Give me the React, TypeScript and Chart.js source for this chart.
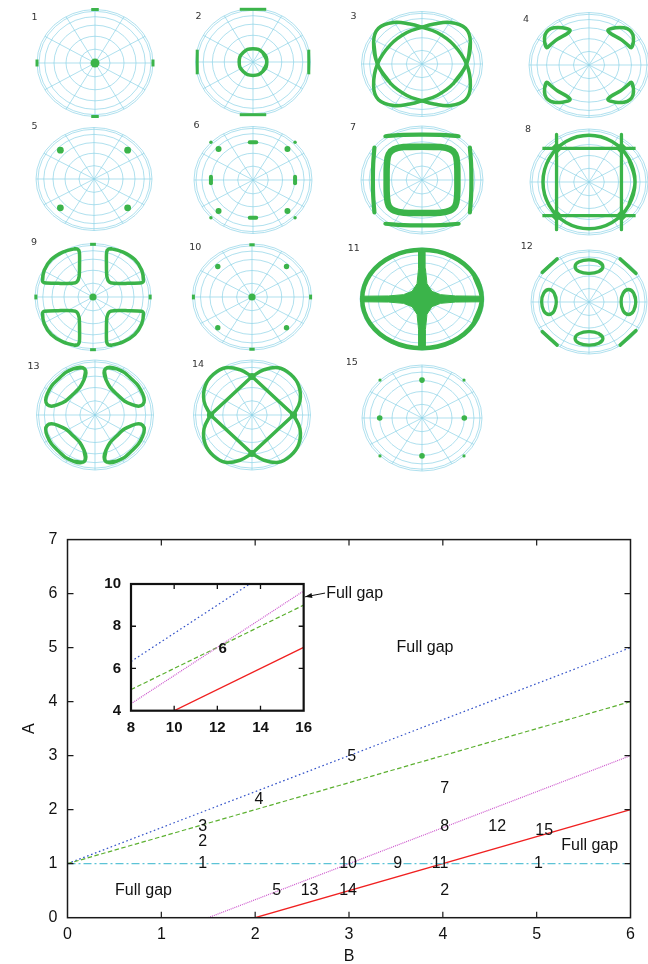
import React, { useEffect, useRef } from "react";
import { Chart, registerables } from "chart.js";
Chart.register(...registerables);

type Pt = [number, number];

const GREEN = "#3bb44a";
const GRID = "#8dd3e6";
const FONT = '"Liberation Sans", Arial, Helvetica, sans-serif';

// ---------------- main phase diagram data ----------------
const mainTicksB = [0, 1, 2, 3, 4, 5, 6];
const mainTicksA = [0, 1, 2, 3, 4, 5, 6, 7];
const blueB = [0, 6];
const blueA = [1, 5];
const greenB = [0, 6];
const greenA = [1, 4];
const magentaB = [1.5, 6];
const magentaA = [0, 3];
const redB = [2, 6];
const redA = [0, 2];
const cyanB = [0, 6];
const cyanA = [1, 1];

const regionLabels = ["1", "2", "3", "4", "5", "7", "8", "12", "15", "10", "9", "11", "1", "5", "13", "14", "2"];
const regionB = [1.44, 1.44, 1.44, 2.04, 3.03, 4.02, 4.02, 4.58, 5.08, 2.99, 3.52, 3.97, 5.02, 2.23, 2.58, 2.99, 4.02];
const regionA = [1.0, 1.4, 1.69, 2.19, 2.99, 2.39, 1.69, 1.69, 1.61, 1.0, 1.0, 1.0, 1.0, 0.5, 0.5, 0.5, 0.5];

const gapLabels = ["Full gap", "Full gap", "Full gap", "Full gap"];
const gapB = [3.81, 0.81, 5.565, 3.06];
const gapA = [5.0, 0.5, 1.34, 6.0];
const arrowTail: Pt = [2.745, 6.01];
const arrowHead: Pt = [2.532, 5.94];

// ---------------- inset data ----------------
const insetTicksB = [8, 10, 12, 14, 16];
const insetTicksA = [4, 6, 8, 10];
const insetB = [8, 16];
const insetBlueA = [6.33, 11.67];
const insetGreenA = [5, 9];
const insetMagentaA = [4.33, 9.67];
const insetRedA = [3, 7];
const insetLabels = ["6"];
const insetLabelB = [12.25];
const insetLabelA = [6.95];

// ---------------- polar panels: shape points (x, y in units of the outer circle) ----------------
const gridRadii = [0.2588, 0.5, 0.7071, 0.866, 0.9659, 1];
const gridSpokes = 12;

const p1Dot: Pt[] = [[0, 0]];
const p1Bars: Pt[][] = [
  [[-0.065, 1], [0.065, 1]],
  [[-0.065, -1], [0.065, -1]],
  [[-1, -0.065], [-1, 0.065]],
  [[1, -0.065], [1, 0.065]],
];

const p2Ring: Pt[] = [[0.24, 0], [0.17, 0.177], [0, 0.25], [-0.17, 0.177], [-0.24, 0], [-0.17, -0.177], [0, -0.25], [0.17, -0.177]];
const p2Bars: Pt[][] = [
  [[-0.23, 0.985], [0.23, 0.985]],
  [[-0.23, -0.985], [0.23, -0.985]],
  [[-0.97, -0.23], [-0.97, 0.23]],
  [[0.97, -0.23], [0.97, 0.23]],
];

const p3LoopA: Pt[] = [[-0.736, 0], [-0.8, 0.42], [-0.72, 0.68], [-0.47, 0.79], [-0.2, 0.76], [0, 0.7], [0.25, 0.6], [0.52, 0.37], [0.736, 0], [0.8, -0.42], [0.72, -0.68], [0.47, -0.79], [0.2, -0.76], [0, -0.7], [-0.25, -0.6], [-0.52, -0.37]];
const p3LoopB: Pt[] = [[0.736, 0], [0.8, 0.42], [0.72, 0.68], [0.47, 0.79], [0.2, 0.76], [0, 0.7], [-0.25, 0.6], [-0.52, 0.37], [-0.736, 0], [-0.8, -0.42], [-0.72, -0.68], [-0.47, -0.79], [-0.2, -0.76], [0, -0.7], [0.25, -0.6], [0.52, -0.37]];

const p4Loops: Pt[][] = [
  [[-0.706, 0.33], [-0.74, 0.44], [-0.733, 0.57], [-0.683, 0.66], [-0.583, 0.71], [-0.444, 0.71], [-0.317, 0.665], [-0.36, 0.6], [-0.528, 0.49], [-0.64, 0.39]],
  [[0.706, 0.33], [0.74, 0.44], [0.733, 0.57], [0.683, 0.66], [0.583, 0.71], [0.444, 0.71], [0.317, 0.665], [0.36, 0.6], [0.528, 0.49], [0.64, 0.39]],
  [[-0.706, -0.33], [-0.74, -0.44], [-0.733, -0.57], [-0.683, -0.66], [-0.583, -0.71], [-0.444, -0.71], [-0.317, -0.665], [-0.36, -0.6], [-0.528, -0.49], [-0.64, -0.39]],
  [[0.706, -0.33], [0.74, -0.44], [0.733, -0.57], [0.683, -0.66], [0.583, -0.71], [0.444, -0.71], [0.317, -0.665], [0.36, -0.6], [0.528, -0.49], [0.64, -0.39]],
];

const p5Dots: Pt[] = [[-0.58, 0.56], [0.58, 0.56], [-0.58, -0.56], [0.58, -0.56]];

const p6Bars: Pt[][] = [
  [[-0.055, 0.706], [0.055, 0.706]],
  [[-0.055, -0.706], [0.055, -0.706]],
  [[-0.713, -0.06], [-0.713, 0.06]],
  [[0.713, -0.06], [0.713, 0.06]],
];
const p6Diag: Pt[] = [[-0.584, 0.58], [0.584, 0.58], [-0.584, -0.58], [0.584, -0.58]];
const p6Corner: Pt[] = [[-0.713, 0.706], [0.713, 0.706], [-0.713, -0.706], [0.713, -0.706]];

const p7Square: Pt[] = [[0, 0.615], [0.3, 0.61], [0.46, 0.57], [0.545, 0.48], [0.575, 0.3], [0.58, 0], [0.575, -0.3], [0.545, -0.48], [0.46, -0.565], [0.3, -0.605], [0, -0.61], [-0.3, -0.605], [-0.46, -0.565], [-0.545, -0.48], [-0.575, -0.3], [-0.58, 0], [-0.575, 0.3], [-0.545, 0.48], [-0.46, 0.57], [-0.3, 0.61]];
const p7Bars: Pt[][] = [
  [[-0.6, 0.81], [-0.3, 0.835], [0, 0.84], [0.3, 0.835], [0.6, 0.81]],
  [[-0.6, -0.81], [-0.3, -0.835], [0, -0.84], [0.3, -0.835], [0.6, -0.81]],
  [[-0.78, 0.6], [-0.8, 0.3], [-0.805, 0], [-0.8, -0.3], [-0.78, -0.6]],
  [[0.785, 0.6], [0.805, 0.3], [0.81, 0], [0.805, -0.3], [0.785, -0.6]],
];

const p8Circle: Pt[] = [[0.78, 0], [0.675, 0.44], [0.39, 0.762], [0, 0.88], [-0.39, 0.762], [-0.675, 0.44], [-0.78, 0], [-0.675, -0.44], [-0.39, -0.762], [0, -0.88], [0.39, -0.762], [0.675, -0.44]];
const p8Lines: Pt[][] = [
  [[-0.55, 0.9], [-0.55, -0.9]],
  [[0.55, 0.9], [0.55, -0.9]],
  [[-0.79, 0.635], [0.79, 0.635]],
  [[-0.79, -0.635], [0.79, -0.635]],
];
const p8Stars: Pt[] = [[-0.55, 0.635], [0.55, 0.635], [-0.55, -0.635], [0.55, -0.635]];

const p9Dot: Pt[] = [[0, 0]];
const p9Bars: Pt[][] = [
  [[-0.05, 0.985], [0.05, 0.985]],
  [[-0.05, -0.985], [0.05, -0.985]],
  [[-0.985, -0.045], [-0.985, 0.045]],
  [[0.985, -0.045], [0.985, 0.045]],
];
const p9Loops: Pt[][] = [
  [[-0.26, 0.89], [-0.235, 0.84], [-0.232, 0.6], [-0.24, 0.38], [-0.28, 0.28], [-0.36, 0.255], [-0.6, 0.255], [-0.84, 0.265], [-0.87, 0.3], [-0.84, 0.5], [-0.72, 0.7], [-0.52, 0.84], [-0.32, 0.9]],
  [[0.26, 0.89], [0.235, 0.84], [0.232, 0.6], [0.24, 0.38], [0.28, 0.28], [0.36, 0.255], [0.6, 0.255], [0.84, 0.265], [0.87, 0.3], [0.84, 0.5], [0.72, 0.7], [0.52, 0.84], [0.32, 0.9]],
  [[-0.26, -0.89], [-0.235, -0.84], [-0.232, -0.6], [-0.24, -0.38], [-0.28, -0.28], [-0.36, -0.255], [-0.6, -0.255], [-0.84, -0.265], [-0.87, -0.3], [-0.84, -0.5], [-0.72, -0.7], [-0.52, -0.84], [-0.32, -0.9]],
  [[0.26, -0.89], [0.235, -0.84], [0.232, -0.6], [0.24, -0.38], [0.28, -0.28], [0.36, -0.255], [0.6, -0.255], [0.84, -0.265], [0.87, -0.3], [0.84, -0.5], [0.72, -0.7], [0.52, -0.84], [0.32, -0.9]],
];

const p10Dot: Pt[] = [[0, 0]];
const p10Diag: Pt[] = [[-0.575, 0.575], [0.58, 0.575], [-0.575, -0.58], [0.58, -0.58]];
const p10Bars: Pt[][] = [
  [[-0.045, 0.985], [0.045, 0.985]],
  [[-0.045, -0.985], [0.045, -0.985]],
  [[-0.985, -0.045], [-0.985, 0.045]],
  [[0.985, -0.045], [0.985, 0.045]],
];

const p11Ring: Pt[] = [[0.965, 0], [0.836, 0.4825], [0.4825, 0.836], [0, 0.965], [-0.4825, 0.836], [-0.836, 0.4825], [-0.965, 0], [-0.836, -0.4825], [-0.4825, -0.836], [0, -0.965], [0.4825, -0.836], [0.836, -0.4825]];
const p11Cross: Pt[] = [
  [0.985, 0.055], [0.54, 0.06], [0.3, 0.085], [0.16, 0.15], [0.08, 0.3], [0.055, 0.6], [0.05, 0.985],
  [-0.05, 0.985], [-0.055, 0.6], [-0.08, 0.3], [-0.16, 0.15], [-0.3, 0.085], [-0.54, 0.06], [-0.985, 0.055],
  [-0.985, -0.055], [-0.54, -0.06], [-0.3, -0.085], [-0.16, -0.15], [-0.08, -0.3], [-0.055, -0.6], [-0.05, -0.985],
  [0.05, -0.985], [0.055, -0.6], [0.08, -0.3], [0.16, -0.15], [0.3, -0.085], [0.54, -0.06], [0.985, -0.055],
  [0.985, 0.055],
];

const p12Ovals: Pt[][] = [
  [[0.24, 0.68], [0.17, 0.772], [0, 0.81], [-0.17, 0.772], [-0.24, 0.68], [-0.17, 0.588], [0, 0.55], [0.17, 0.588]],
  [[0.24, -0.7], [0.17, -0.608], [0, -0.57], [-0.17, -0.608], [-0.24, -0.7], [-0.17, -0.792], [0, -0.83], [0.17, -0.792]],
  [[-0.564, 0], [-0.6, 0.17], [-0.69, 0.24], [-0.78, 0.17], [-0.816, 0], [-0.78, -0.17], [-0.69, -0.24], [-0.6, -0.17]],
  [[0.806, 0], [0.77, 0.17], [0.68, 0.24], [0.59, 0.17], [0.554, 0], [0.59, -0.17], [0.68, -0.24], [0.77, -0.17]],
];
const p12Bars: Pt[][] = [
  [[-0.806, 0.57], [-0.549, 0.83]],
  [[0.537, 0.83], [0.81, 0.55]],
  [[-0.806, -0.57], [-0.549, -0.83]],
  [[0.537, -0.83], [0.81, -0.55]],
];

const p13Ovals: Pt[][] = [
  [[-0.18, 0.84], [-0.186, 0.645], [-0.375, 0.376], [-0.636, 0.188], [-0.818, 0.19], [-0.814, 0.385], [-0.625, 0.655], [-0.364, 0.842]],
  [[0.18, 0.84], [0.186, 0.645], [0.375, 0.376], [0.636, 0.188], [0.818, 0.19], [0.814, 0.385], [0.625, 0.655], [0.364, 0.842]],
  [[-0.18, -0.84], [-0.186, -0.645], [-0.375, -0.376], [-0.636, -0.188], [-0.818, -0.19], [-0.814, -0.385], [-0.625, -0.655], [-0.364, -0.842]],
  [[0.18, -0.84], [0.186, -0.645], [0.375, -0.376], [0.636, -0.188], [0.818, -0.19], [0.814, -0.385], [0.625, -0.655], [0.364, -0.842]],
];

const p14Petals: Pt[][] = [
  [[0, 0.7], [0.2, 0.82], [0.45, 0.86], [0.66, 0.74], [0.8, 0.53], [0.82, 0.25], [0.71, 0]],
  [[0, 0.7], [-0.2, 0.82], [-0.45, 0.86], [-0.66, 0.74], [-0.8, 0.53], [-0.82, 0.25], [-0.71, 0]],
  [[0, -0.7], [0.2, -0.82], [0.45, -0.86], [0.66, -0.74], [0.8, -0.53], [0.82, -0.25], [0.71, 0]],
  [[0, -0.7], [-0.2, -0.82], [-0.45, -0.86], [-0.66, -0.74], [-0.8, -0.53], [-0.82, -0.25], [-0.71, 0]],
];
const p14Diamond: Pt[] = [[0, 0.7], [0.71, 0], [0, -0.7], [-0.71, 0], [0, 0.7]];
const p14Nodes: Pt[] = [[0, 0.7], [0.71, 0], [0, -0.7], [-0.71, 0]];

const p15Dots: Pt[] = [[0, 0.715], [0, -0.715], [-0.705, 0], [0.705, 0]];
const p15Small: Pt[] = [[-0.7, 0.715], [0.7, 0.715], [-0.7, -0.715], [0.7, -0.715]];

// ---------------- layout of the 15 panels (page px): cx, cy, rx, ry, label x, label y ----------------
const panelLayout: number[][] = [
  [94.5, 63, 58, 53.5, 34, 18],
  [252.5, 62, 57.5, 53.5, 198, 17],
  [421.5, 64, 60.5, 52.5, 353, 17],
  [589, 64.5, 60, 52.5, 526, 19],
  [93.5, 179, 58, 51.5, 34, 127],
  [252.5, 179.5, 59, 53.5, 196, 125],
  [422, 179.5, 61, 54, 353, 127],
  [589, 181.5, 59, 53, 528, 129],
  [93, 296.7, 58, 53.5, 34, 242],
  [251.7, 296.7, 59.5, 53, 195, 247],
  [422.3, 299.3, 62, 51, 354, 249],
  [589.3, 301.7, 58, 52, 527, 246],
  [94.5, 415, 58.5, 55, 33, 367],
  [252, 415, 58.5, 55, 198, 365],
  [422.3, 417.7, 60, 53, 352, 362],
];

type Shape = { k: string; pts: Pt[]; w?: number; r?: number; t?: number; cap?: string; style?: string };
const ln = (pts: Pt[], w: number, t = 0.4, cap = "round"): Shape => ({ k: "line", pts, w, t, cap });
const lp = (pts: Pt[], w: number, t = 0.4): Shape => ({ k: "line", pts: [pts[pts.length - 1], ...pts, pts[0], pts[1]], w, t, cap: "round" });
const dt = (pts: Pt[], r: number, style = "circle"): Shape => ({ k: "dots", pts, r, style });
const fl = (pts: Pt[]): Shape => ({ k: "fill", pts });

const panelShapes: Shape[][] = [
  [dt(p1Dot, 4.5), ...p1Bars.map((b) => ln(b, 3, 0, "butt"))],
  [lp(p2Ring, 3.5, 0.5), ...p2Bars.map((b) => ln(b, 3, 0, "butt"))],
  [lp(p3LoopA, 3.5), lp(p3LoopB, 3.5)],
  [...p4Loops.map((l) => lp(l, 3.5, 0.35))],
  [dt(p5Dots, 3.4)],
  [...p6Bars.map((b) => ln(b, 4, 0, "round")), dt(p6Diag, 3), dt(p6Corner, 1.7)],
  [lp(p7Square, 6.5), ...p7Bars.map((b) => ln(b, 4.2))],
  [lp(p8Circle, 3.5), ...p8Lines.map((b) => ln(b, 3.3, 0, "butt")), dt(p8Stars, 6, "rectRot")],
  [dt(p9Dot, 3.6), ...p9Bars.map((b) => ln(b, 3, 0, "butt")), ...p9Loops.map((l) => lp(l, 3.5, 0.3))],
  [dt(p10Dot, 3.6), dt(p10Diag, 2.7), ...p10Bars.map((b) => ln(b, 3, 0, "butt"))],
  [lp(p11Ring, 4.5), fl(p11Cross)],
  [...p12Ovals.map((o) => lp(o, 3.3, 0.5)), ...p12Bars.map((b) => ln(b, 3.5, 0, "round"))],
  [...p13Ovals.map((o) => lp(o, 3.5, 0.5))],
  [...p14Petals.map((p) => ln(p, 3.5)), ln(p14Diamond, 3.5, 0), dt(p14Nodes, 3.6)],
  [dt(p15Dots, 2.8), dt(p15Small, 1.6)],
];

const toXY = (pts: Pt[]) => pts.map(([x, y]) => ({ x, y }));
const xy = (B: number[], A: number[]) => B.map((b, i) => ({ x: b, y: A[i] }));

const polarGridPlugin = {
  id: "polarGrid",
  beforeDatasetsDraw(chart: any) {
    const { ctx, scales } = chart;
    const cx = scales.x.getPixelForValue(0);
    const cy = scales.y.getPixelForValue(0);
    const rx = scales.x.getPixelForValue(1) - cx;
    const ry = cy - scales.y.getPixelForValue(1);
    ctx.save();
    ctx.strokeStyle = GRID;
    ctx.lineWidth = 0.7;
    for (const r of gridRadii) {
      ctx.beginPath();
      ctx.ellipse(cx, cy, rx * r, ry * r, 0, 0, Math.PI * 2);
      ctx.stroke();
    }
    ctx.beginPath();
    for (let k = 0; k < gridSpokes; k++) {
      const a = (k * 2 * Math.PI) / gridSpokes;
      ctx.moveTo(cx, cy);
      ctx.lineTo(cx + rx * Math.cos(a), cy - ry * Math.sin(a));
    }
    ctx.stroke();
    ctx.restore();
  },
};

function PolarPanel({ idx }: { idx: number }) {
  const ref = useRef<HTMLCanvasElement>(null);
  const [cx, cy, rx, ry, lx, ly] = panelLayout[idx];
  const W = 150, H = 124;
  const left = cx - W / 2, top = cy - H / 2;
  useEffect(() => {
    const datasets = panelShapes[idx].map((s) => {
      const base: any = { data: toXY(s.pts), clip: false, borderColor: GREEN, backgroundColor: GREEN };
      if (s.k === "dots")
        return { ...base, showLine: false, pointRadius: s.r, pointStyle: s.style, pointBorderWidth: 0, pointBackgroundColor: GREEN };
      if (s.k === "fill")
        return { ...base, showLine: true, fill: "shape", borderWidth: 1, pointRadius: 0, tension: 0 };
      return { ...base, showLine: true, borderWidth: s.w, pointRadius: 0, tension: s.t, borderCapStyle: s.cap, borderJoinStyle: "round" };
    });
    const labelPlugin = {
      id: "panelLabel",
      afterDraw(chart: any) {
        const ctx = chart.ctx;
        ctx.save();
        ctx.fillStyle = "#333";
        ctx.font = `9.5px "DejaVu Sans", sans-serif`;
        ctx.textAlign = "center";
        ctx.textBaseline = "middle";
        ctx.fillText(String(idx + 1), lx - left, ly - top);
        ctx.restore();
      },
    };
    const chart = new Chart(ref.current!, {
      type: "scatter",
      data: { datasets },
      options: {
        animation: false,
        responsive: false,
        devicePixelRatio: 1,
        events: [],
        layout: { padding: { left: W / 2 - rx, right: W / 2 - rx, top: H / 2 - ry, bottom: H / 2 - ry } },
        plugins: { legend: { display: false }, tooltip: { enabled: false } },
        scales: {
          x: { type: "linear", min: -1, max: 1, display: false },
          y: { type: "linear", min: -1, max: 1, display: false },
        },
      } as any,
      plugins: [polarGridPlugin, labelPlugin],
    });
    return () => chart.destroy();
  }, [idx]);
  return <canvas ref={ref} width={W} height={H} style={{ position: "absolute", left, top, width: W, height: H }} />;
}

const lineDs = (data: any[], color: string, dash: number[], w = 1.2) => ({
  data,
  showLine: true,
  borderColor: color,
  borderDash: dash,
  borderWidth: w,
  pointRadius: 0,
  tension: 0,
});

const BLUE = "#3050c8";
const LGREEN = "#5cb030";
const MAGENTA = "#cc55cc";
const RED = "#f02020";
const CYAN = "#5cc3d6";

function MainChart() {
  const ref = useRef<HTMLCanvasElement>(null);
  useEffect(() => {
    const decor = {
      id: "mainDecor",
      afterDraw(chart: any) {
        const { ctx, chartArea: a, scales } = chart;
        const { x, y } = scales;
        ctx.save();
        ctx.strokeStyle = "#1a1a1a";
        ctx.lineWidth = 1.5;
        ctx.strokeRect(a.left, a.top, a.right - a.left, a.bottom - a.top);
        ctx.lineWidth = 1.2;
        ctx.beginPath();
        for (const v of mainTicksB.slice(1, -1)) {
          const px = x.getPixelForValue(v);
          ctx.moveTo(px, a.bottom);
          ctx.lineTo(px, a.bottom - 6);
          ctx.moveTo(px, a.top);
          ctx.lineTo(px, a.top + 6);
        }
        for (const v of mainTicksA.slice(1, -1)) {
          const py = y.getPixelForValue(v);
          ctx.moveTo(a.left, py);
          ctx.lineTo(a.left + 6, py);
          ctx.moveTo(a.right, py);
          ctx.lineTo(a.right - 6, py);
        }
        ctx.stroke();
        ctx.fillStyle = "#111";
        ctx.font = `16px ${FONT}`;
        ctx.textAlign = "center";
        ctx.textBaseline = "middle";
        regionLabels.forEach((t, i) => ctx.fillText(t, x.getPixelForValue(regionB[i]), y.getPixelForValue(regionA[i])));
        gapLabels.forEach((t, i) => ctx.fillText(t, x.getPixelForValue(gapB[i]), y.getPixelForValue(gapA[i])));
        // arrow
        const tx = x.getPixelForValue(arrowTail[0]), ty = y.getPixelForValue(arrowTail[1]);
        const hx = x.getPixelForValue(arrowHead[0]), hy = y.getPixelForValue(arrowHead[1]);
        ctx.strokeStyle = "#111";
        ctx.lineWidth = 1;
        ctx.beginPath();
        ctx.moveTo(tx, ty);
        ctx.lineTo(hx, hy);
        ctx.stroke();
        const ang = Math.atan2(hy - ty, hx - tx);
        ctx.beginPath();
        ctx.moveTo(hx, hy);
        ctx.lineTo(hx - 7 * Math.cos(ang) + 2.5 * Math.sin(ang), hy - 7 * Math.sin(ang) - 2.5 * Math.cos(ang));
        ctx.lineTo(hx - 7 * Math.cos(ang) - 2.5 * Math.sin(ang), hy - 7 * Math.sin(ang) + 2.5 * Math.cos(ang));
        ctx.closePath();
        ctx.fill();
        ctx.restore();
      },
    };
    const font = { family: FONT, size: 16 };
    const chart = new Chart(ref.current!, {
      type: "scatter",
      data: {
        datasets: [
          lineDs(xy(cyanB, cyanA), CYAN, [8, 3, 2, 3]),
          lineDs(xy(magentaB, magentaA), MAGENTA, [1, 1]),
          lineDs(xy(greenB, greenA), LGREEN, [4.5, 2.5]),
          lineDs(xy(blueB, blueA), BLUE, [1.6, 2.6]),
          lineDs(xy(redB, redA), RED, [], 1.3),
        ],
      },
      options: {
        animation: false,
        responsive: false,
        devicePixelRatio: 1,
        events: [],
        layout: { padding: { left: 0, top: 17.3, right: 17.5, bottom: 0 } },
        plugins: { legend: { display: false }, tooltip: { enabled: false } },
        scales: {
          x: {
            type: "linear",
            min: 0,
            max: 6,
            ticks: { stepSize: 1, font, color: "#111", padding: 7 },
            grid: { display: false, drawTicks: false },
            border: { display: false },
            title: { display: true, text: "B", font, color: "#111", padding: { top: 0, bottom: 0 } },
            afterFit: (s: any) => { s.height = 48.3; },
          },
          y: {
            type: "linear",
            min: 0,
            max: 7,
            ticks: { stepSize: 1, font, color: "#111", padding: 10 },
            grid: { display: false, drawTicks: false },
            border: { display: false },
            title: { display: true, text: "A", font, color: "#111", padding: { top: 20, bottom: 0 } },
            afterFit: (s: any) => { s.width = 67.5; },
          },
        },
      } as any,
      plugins: [decor],
    });
    return () => chart.destroy();
  }, []);
  return <canvas ref={ref} width={648} height={446} style={{ position: "absolute", left: 0, top: 520, width: 648, height: 446 }} />;
}

function InsetChart() {
  const ref = useRef<HTMLCanvasElement>(null);
  useEffect(() => {
    const decor = {
      id: "insetDecor",
      afterDraw(chart: any) {
        const { ctx, chartArea: a, scales } = chart;
        const { x, y } = scales;
        ctx.save();
        ctx.strokeStyle = "#111";
        ctx.lineWidth = 2.2;
        ctx.strokeRect(a.left, a.top, a.right - a.left, a.bottom - a.top);
        ctx.lineWidth = 1.3;
        ctx.beginPath();
        for (const v of insetTicksB.slice(1, -1)) {
          const px = x.getPixelForValue(v);
          ctx.moveTo(px, a.bottom);
          ctx.lineTo(px, a.bottom - 5);
          ctx.moveTo(px, a.top);
          ctx.lineTo(px, a.top + 5);
        }
        for (const v of insetTicksA.slice(1, -1)) {
          const py = y.getPixelForValue(v);
          ctx.moveTo(a.left, py);
          ctx.lineTo(a.left + 5, py);
          ctx.moveTo(a.right, py);
          ctx.lineTo(a.right - 5, py);
        }
        ctx.stroke();
        ctx.fillStyle = "#111";
        ctx.font = `bold 15px ${FONT}`;
        ctx.textAlign = "center";
        ctx.textBaseline = "middle";
        insetLabels.forEach((t, i) => ctx.fillText(t, x.getPixelForValue(insetLabelB[i]), y.getPixelForValue(insetLabelA[i])));
        ctx.restore();
      },
    };
    const font = { family: FONT, size: 15, weight: "bold" };
    const chart = new Chart(ref.current!, {
      type: "scatter",
      data: {
        datasets: [
          lineDs(xy(insetB, insetMagentaA), MAGENTA, [1, 1]),
          lineDs(xy(insetB, insetGreenA), LGREEN, [4.5, 2.5]),
          lineDs(xy(insetB, insetBlueA), BLUE, [1.6, 2.6]),
          lineDs(xy(insetB, insetRedA), RED, [], 1.3),
        ],
      },
      options: {
        animation: false,
        responsive: false,
        devicePixelRatio: 1,
        events: [],
        layout: { padding: { left: 0, top: 17.3, right: 13.3, bottom: 0 } },
        plugins: { legend: { display: false }, tooltip: { enabled: false } },
        scales: {
          x: {
            type: "linear",
            min: 8,
            max: 16,
            ticks: { stepSize: 2, font, color: "#111", padding: 8 },
            grid: { display: false, drawTicks: false },
            border: { display: false },
            afterFit: (s: any) => { s.height = 34.3; },
          },
          y: {
            type: "linear",
            min: 4,
            max: 10,
            ticks: { stepSize: 2, font, color: "#111", padding: 10 },
            grid: { display: false, drawTicks: false },
            border: { display: false },
            afterFit: (s: any) => { s.width = 46; },
          },
        },
      } as any,
      plugins: [decor],
    });
    return () => chart.destroy();
  }, []);
  return <canvas ref={ref} width={235} height={180} style={{ position: "absolute", left: 85, top: 565, width: 235, height: 180 }} />;
}

export default function App() {
  return (
    <div style={{ position: "fixed", left: 0, top: 0, width: 648, height: 964, background: "#fff", overflow: "hidden" }}>
      {panelLayout.map((_, i) => (
        <PolarPanel key={i} idx={i} />
      ))}
      <MainChart />
      <InsetChart />
    </div>
  );
}
